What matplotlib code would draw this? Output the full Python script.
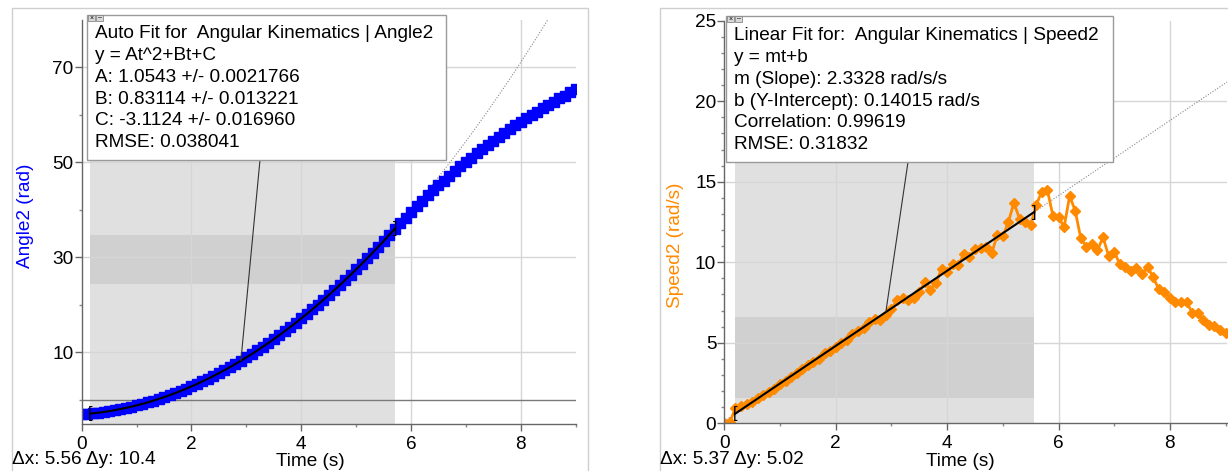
import numpy as np
import matplotlib.pyplot as plt
from matplotlib.patches import Rectangle, ConnectionPatch
from matplotlib.ticker import MultipleLocator

plt.rcParams['font.family'] = ['Liberation Sans', 'DejaVu Sans']

# time base (s)
time = np.round(np.arange(0, 91) * 0.1, 1)

# Angle2 (rad)
angle = [
    -3.11, -3.02, -2.90, -2.77, -2.61, -2.43, -2.23, -2.01, -1.77, -1.51,
    -1.23, -0.92, -0.60, -0.25, 0.12, 0.51, 0.92, 1.35, 1.80, 2.27,
    2.77, 3.28, 3.82, 4.38, 4.96, 5.55, 6.18, 6.82, 7.48, 8.16,
    8.87, 9.60, 10.34, 11.11, 11.90, 12.71, 13.54, 14.40, 15.27, 16.17,
    17.08, 18.02, 18.98, 19.96, 20.96, 21.98, 23.02, 24.08, 25.17, 26.27,
    27.40, 28.55, 29.72, 30.91, 32.12, 33.35, 34.60, 35.88, 37.1, 38.3,
    39.5, 40.7, 41.9, 43.0, 44.1, 45.1, 46.1, 47.1, 48.1, 49.1,
    50.0, 50.9, 51.8, 52.7, 53.6, 54.4, 55.3, 56.1, 56.9, 57.7,
    58.5, 59.2, 59.9, 60.6, 61.3, 62.0, 62.7, 63.4, 64.0, 64.7,
    65.3,
]

# Speed2 (rad/s)
speed = [
    0.0, 0.05, 0.95, 1.05, 1.2, 1.35, 1.6, 1.75, 1.95, 2.15,
    2.45, 2.6, 2.9, 3.1, 3.4, 3.6, 3.8, 4.0, 4.35, 4.5,
    4.75, 5.0, 5.2, 5.55, 5.75, 5.9, 6.3, 6.45, 6.4, 6.75,
    7.1, 7.65, 7.8, 7.65, 7.75, 8.15, 8.75, 8.3, 8.7, 9.6,
    9.4, 9.9, 9.8, 10.5, 10.3, 10.8, 10.9, 10.95, 10.55, 11.7,
    11.6, 12.5, 13.7, 12.7, 12.5, 12.3, 13.56, 14.39, 14.49, 12.88,
    12.83, 12.17, 14.12, 13.19, 11.49, 10.97, 11.12, 10.76, 11.55, 10.39,
    10.66, 9.88, 9.69, 9.48, 9.63, 9.27, 9.69, 9.07, 8.32, 8.17,
    7.76, 7.52, 7.55, 7.52, 6.87, 6.83, 6.42, 6.11, 6.04, 5.80,
    5.59,
]

# fit results shown in the boxes
quad_A, quad_B, quad_C = 1.0543, 0.83114, -3.1124
quad_range = (0.15, 5.71)
quad_band = (24.3, 34.7)
lin_m, lin_b = 2.3328, 0.14015
lin_range = (0.19, 5.56)
lin_band = (1.55, 6.58)

quad_text = ["Auto Fit for  Angular Kinematics | Angle2", "y = At^2+Bt+C",
             "A: 1.0543 +/- 0.0021766", "B: 0.83114 +/- 0.013221",
             "C: -3.1124 +/- 0.016960", "RMSE: 0.038041"]
lin_text = ["Linear Fit for:  Angular Kinematics | Speed2", "y = mt+b",
            "m (Slope): 2.3328 rad/s/s", "b (Y-Intercept): 0.14015 rad/s",
            "Correlation: 0.99619", "RMSE: 0.31832"]

W, H = 1228, 471
fig = plt.figure(figsize=(W / 100, H / 100), dpi=100)
FS = 13.7
BLUE = '#0000ff'
ORANGE = '#ff8a00'
GRID = '#d6d6d6'


def fx(x):
    return x / W


def fy(y):
    return 1 - y / H


# outer window frames
fig.add_artist(Rectangle((fx(12), fy(480)), fx(588 - 12), fy(8) - fy(480),
                         transform=fig.transFigure, fill=False, ec='#cfcfcf', lw=1))
fig.add_artist(Rectangle((fx(660), fy(480)), fx(600), fy(8) - fy(480),
                         transform=fig.transFigure, fill=False, ec='#cfcfcf', lw=1))

axL = fig.add_axes([fx(81.7), fy(424), fx(575.7 - 81.7), fy(20) - fy(424)])
axR = fig.add_axes([fx(724.3), fy(423.3), fx(1227 - 724.3), fy(20.7) - fy(423.3)])


def style(ax):
    for s in ['top', 'right']:
        ax.spines[s].set_visible(False)
    for s in ['left', 'bottom']:
        ax.spines[s].set_color('#666666')
        ax.spines[s].set_linewidth(1)
    ax.tick_params(which='major', length=4.8, width=1, color='#666666', labelsize=FS)
    ax.tick_params(which='minor', length=2.2, width=1, color='#888888')
    ax.tick_params(axis='x', which='major', pad=3.5)
    ax.tick_params(axis='y', which='major', pad=1)
    ax.set_facecolor('none')


# ---------- left panel ----------
axL.set_xlim(0, 9.0)
axL.set_ylim(-5.15, 79.9)
axL.xaxis.set_major_locator(MultipleLocator(2))
axL.xaxis.set_minor_locator(MultipleLocator(1))
axL.set_yticks([10, 30, 50, 70])
axL.yaxis.set_minor_locator(MultipleLocator(20))
style(axL)

axL.axvspan(*quad_range, color='#e0e0e0', lw=0, zorder=0)
axL.fill_between(quad_range, quad_band[0], quad_band[1], color='#d0d0d0', lw=0, zorder=0.1)
for v in [2, 4, 6, 8]:
    axL.axvline(v, color=GRID, lw=1, zorder=0.5)
for v in [10, 30, 50, 70]:
    axL.axhline(v, color=GRID, lw=1, zorder=0.5)
axL.axhline(0, color='#7a7a7a', lw=1, zorder=0.6)

tq = np.linspace(0, 9, 300)
axL.plot(tq, quad_A * tq**2 + quad_B * tq + quad_C, ls=(0, (1, 1.5)), color='#888888', lw=0.8, zorder=1)
axL.plot(time, angle, color=BLUE, lw=2, marker='s', ms=6.8, mec=BLUE, zorder=2)
tf = np.linspace(*quad_range, 100)
axL.plot(tf, quad_A * tf**2 + quad_B * tf + quad_C, color='black', lw=1.5, zorder=3)
axL.text(quad_range[0], quad_A * quad_range[0]**2 + quad_B * quad_range[0] + quad_C, '[',
         ha='center', va='center', fontsize=12, zorder=4)
axL.text(quad_range[1], quad_A * quad_range[1]**2 + quad_B * quad_range[1] + quad_C, ']',
         ha='center', va='center', fontsize=12, zorder=4)

# ---------- right panel ----------
axR.set_xlim(0, 9.025)
axR.set_ylim(0, 25)
axR.xaxis.set_major_locator(MultipleLocator(2))
axR.xaxis.set_minor_locator(MultipleLocator(1))
axR.yaxis.set_major_locator(MultipleLocator(5))
axR.yaxis.set_minor_locator(MultipleLocator(1))
style(axR)

axR.axvspan(*lin_range, color='#e0e0e0', lw=0, zorder=0)
axR.fill_between(lin_range, lin_band[0], lin_band[1], color='#d0d0d0', lw=0, zorder=0.1)
for v in [2, 4, 6, 8]:
    axR.axvline(v, color=GRID, lw=1, zorder=0.5)
for v in [5, 10, 15, 20]:
    axR.axhline(v, color=GRID, lw=1, zorder=0.5)

tl = np.linspace(0, 9.025, 50)
axR.plot(tl, lin_m * tl + lin_b, ls=(0, (1, 1.5)), color='#888888', lw=0.8, zorder=1)
axR.plot(time, speed, color=ORANGE, lw=2, marker='D', ms=5.3, mec=ORANGE, zorder=2)
tf = np.array(lin_range)
axR.plot(tf, lin_m * tf + lin_b, color='black', lw=1.5, zorder=3)
axR.text(lin_range[0], lin_m * lin_range[0] + lin_b, '[', ha='center', va='center', fontsize=12, zorder=4)
axR.text(lin_range[1], lin_m * lin_range[1] + lin_b, ']', ha='center', va='center', fontsize=12, zorder=4)

# ---------- fit boxes ----------
def fit_box(x0, y0, x1, y1, lines, tx, ty0):
    fig.add_artist(Rectangle((fx(x0), fy(y1)), fx(x1 - x0), fy(y0) - fy(y1),
                             transform=fig.transFigure, fc='white', ec='#9a9a9a', lw=1, zorder=10))
    for i, s in enumerate(['×', '–']):
        fig.add_artist(Rectangle((fx(x0 + 1 + 8 * i), fy(y0 + 6)), fx(7), fy(y0) - fy(y0 + 6),
                                 transform=fig.transFigure, fc='#d8d8d8', ec='#888888', lw=0.6, zorder=11))
        fig.text(fx(x0 + 4.5 + 8 * i), fy(y0 + 3), s, fontsize=5, ha='center', va='center', zorder=12)
    for i, s in enumerate(lines):
        fig.text(fx(tx), fy(ty0 + 21.7 * i), s, fontsize=FS, ha='left', va='center', zorder=12)


fit_box(87, 15, 446.5, 160, quad_text, 95, 34)
fit_box(726, 16, 1112.5, 162, lin_text, 734, 36)

# leader lines from a fitted point to the box
i = 29
fig.add_artist(ConnectionPatch((time[i], angle[i]), (260, H - 160), coordsA=axL.transData,
                               coordsB='figure pixels', color='#333333', lw=0.8, zorder=5))
fig.add_artist(ConnectionPatch((time[i], lin_m * time[i] + lin_b), (908, H - 162), coordsA=axR.transData,
                               coordsB='figure pixels', color='#333333', lw=0.8, zorder=5))

# ---------- labels ----------
fig.text(fx(26), fy(216), 'Angle2 (rad)', color=BLUE, rotation=90, fontsize=FS, ha='center', va='center')
fig.text(fx(676), fy(245), 'Speed2 (rad/s)', color=ORANGE, rotation=90, fontsize=FS, ha='center', va='center')
fig.text(fx(310), fy(461), 'Time (s)', fontsize=FS, ha='center', va='center')
fig.text(fx(960), fy(461), 'Time (s)', fontsize=FS, ha='center', va='center')
fig.text(fx(12), fy(459), 'Δx: 5.56 Δy: 10.4', fontsize=FS, ha='left', va='center')
fig.text(fx(660), fy(459), 'Δx: 5.37 Δy: 5.02', fontsize=FS, ha='left', va='center')

fig.savefig('out.png', dpi=100)
